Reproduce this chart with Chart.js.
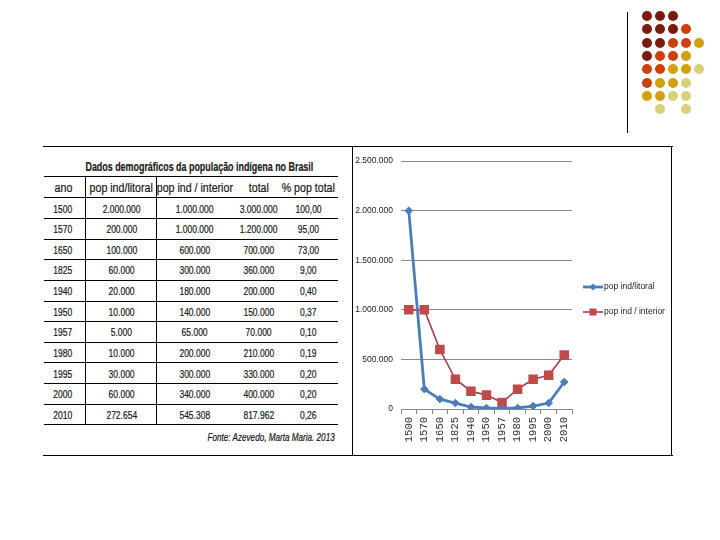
<!DOCTYPE html>
<html>
<head>
<meta charset="utf-8">
<script src="https://cdn.jsdelivr.net/npm/chart.js@4.4.1/dist/chart.umd.min.js"></script>
<style>
html,body{margin:0;padding:0;background:#fff;}
body{width:720px;height:540px;position:relative;overflow:hidden;font-family:"Liberation Sans",Arial,sans-serif;color:#151515;}
.hl{position:absolute;height:0;border-top:1.5px solid #000;}
.vl{position:absolute;width:0;border-left:1.5px solid #000;}
.dot{position:absolute;width:10px;height:10px;border-radius:50%;}
.cell{position:absolute;text-align:center;white-space:nowrap;width:300px;-webkit-text-stroke:0.2px #151515;}
.cell span{display:inline-block;transform-origin:50% 50%;}
.leg{position:absolute;left:583px;height:12px;line-height:12px;font:8.5px "Liberation Sans",Arial,sans-serif;color:#222;white-space:nowrap;}
.leg svg{vertical-align:middle;margin-right:1px;}
</style>
</head>
<body>
<div id="deco"></div>
<div id="table"></div>
<div style="position:absolute;left:353px;top:148px;width:318px;height:306px;">
  <canvas id="chart"></canvas>
</div>
<div id="legend"></div>
<script>
// data
const years = ['1500','1570','1650','1825','1940','1950','1957','1980','1995','2000','2010'];
const popLitoral = [2000000, 200000, 100000, 60000, 20000, 10000, 5000, 10000, 30000, 60000, 272654];
const popInterior = [1000000, 1000000, 600000, 300000, 180000, 140000, 65000, 200000, 300000, 340000, 545308];
const popTotal = [3000000, 1200000, 700000, 360000, 200000, 150000, 70000, 210000, 330000, 400000, 817962];
const pctTotal = [100, 95, 73, 9, 0.40, 0.37, 0.10, 0.19, 0.20, 0.20, 0.26];
const seriesNames = ['pop ind/litoral', 'pop ind / interior'];
const headers = ['ano', 'pop ind/litoral', 'pop ind / interior', 'total', '% pop total'];
const tableTitle = 'Dados demográficos da população indígena no Brasil';
const sourceNote = 'Fonte: Azevedo, Marta Maria. 2013';
const yMax = 2500000, yStep = 500000;

const fmt = n => String(n).replace(/\B(?=(\d{3})+(?!\d))/g, '.');
const pct = n => n.toFixed(2).replace('.', ',');

function add(parent, cls, css, text){
  const d = document.createElement('div');
  d.className = cls; d.style.cssText = css;
  if (text != null) d.textContent = text;
  parent.appendChild(d); return d;
}
// centred text squeezed horizontally (the slide's table uses a narrow font)
function cell(parent, cx, top, h, css, text, sx){
  const d = add(parent, 'cell', `left:${cx - 150}px;top:${top}px;height:${h}px;line-height:${h}px;${css}`);
  const s = document.createElement('span');
  s.textContent = text; s.style.transform = `scaleX(${sx})`;
  d.appendChild(s); return s;
}
function fitTo(span, w){ span.style.transform = `scaleX(${w / span.offsetWidth})`; }

// frame lines + corner decoration
const deco = document.getElementById('deco');
add(deco, 'hl', 'left:43px;top:146px;width:630px;');
add(deco, 'hl', 'left:43px;top:454.5px;width:630px;');
add(deco, 'vl', 'left:351.5px;top:146px;height:310px;');
add(deco, 'vl', 'left:671px;top:146px;height:310px;');
add(deco, 'vl', 'left:626.5px;top:12px;height:121px;');
const dotRows = ['DDD..', 'DDDO.', 'DDOOG', 'DOOG.', 'OOGGP', 'OGGP.', 'GGPP.', '.P.P.'];
const dotColors = {D:'#7B1B10', O:'#CE3F0F', G:'#D3A012', P:'#D7D07C'};
dotRows.forEach((row, r) => [...row].forEach((c, i) => {
  if (c === '.') return;
  add(deco, 'dot', `left:${642 + i*13.1}px;top:${11 + r*13.3}px;background:${dotColors[c]};`);
}));

// table
const tb = document.getElementById('table');
const colCenter = [63, 121.5, 194.5, 258.5, 308.5];
const rowTop = [177, 198];
for (let k = 1; k <= years.length; k++) rowTop.push(198 + k*20.65);
const ttl = cell(tb, 196, 157, 20, 'font-size:12px;font-weight:bold;color:#222;', tableTitle, 1);
fitTo(ttl, 228);
rowTop.forEach(y => add(tb, 'hl', `left:44px;top:${y - 0.75}px;width:294px;`));
[86, 157].forEach(x => add(tb, 'vl', `left:${x - 0.75}px;top:177px;height:248px;`));
const rows = [headers].concat(years.map((y, i) => [y, fmt(popLitoral[i]), fmt(popInterior[i]), fmt(popTotal[i]), pct(pctTotal[i])]));
rows.forEach((r, ri) => {
  const top = rowTop[ri], h = rowTop[ri + 1] - top;
  r.forEach((t, ci) => {
    const fs = ri === 0 ? 12.5 : 11.5, sx = ri === 0 ? 0.85 : 0.74;
    cell(tb, colCenter[ci], top + 0.5, h, `font-size:${fs}px;`, t, sx);
  });
});
const src = cell(tb, 271.5, 429, 16, 'font-style:italic;font-size:10.5px;', sourceNote, 1);
fitTo(src, 127);

// chart
const chart = new Chart(document.getElementById('chart').getContext('2d'), {
  type: 'line',
  data: {
    labels: years,
    datasets: [
      { label: seriesNames[0], data: popLitoral, borderColor: '#4A7EBB', backgroundColor: '#4A7EBB',
        borderWidth: 2.8, pointStyle: 'rectRot', pointRadius: 3.8, pointBorderWidth: 1, tension: 0 },
      { label: seriesNames[1], data: popInterior, borderColor: '#A23A55', backgroundColor: '#BE4B48',
        pointBorderColor: '#BE4B48', borderWidth: 1.6, pointStyle: 'rect', pointRadius: 5.6, tension: 0 }
    ]
  },
  options: {
    responsive: true, maintainAspectRatio: false, animation: false,
    layout: { padding: { top: 13, right: 99, left: 0, bottom: 0 } },
    plugins: { legend: { display: false }, tooltip: { enabled: false } },
    scales: {
      x: {
        offset: true,
        grid: { offset: true, drawOnChartArea: false, tickLength: 5, color: '#888' },
        border: { color: '#888' },
        ticks: { minRotation: 90, maxRotation: 90, autoSkip: false, padding: 3, color: '#333',
                 font: { family: 'Liberation Mono', size: 10.5 } },
        afterFit: s => { s.height = 45; }
      },
      y: {
        min: 0, max: yMax,
        grid: { color: '#8a8a8a', drawTicks: false },
        border: { display: false },
        ticks: { stepSize: yStep, padding: 8, color: '#222', font: { family: 'Liberation Sans', size: 8.5 },
                 callback: v => v === 0 ? '0' : fmt(v) },
        afterFit: s => { s.width = 48; }
      }
    }
  }
});

// legend beside the plot, built from the chart's datasets
const lg = document.getElementById('legend');
chart.data.datasets.forEach((ds, i) => {
  const marker = ds.pointStyle === 'rect'
    ? `<rect x="6.5" y="1.5" width="7" height="7" fill="${ds.backgroundColor}"/>`
    : `<path d="M10 1.5L13.5 5L10 8.5L6.5 5Z" fill="${ds.backgroundColor}"/>`;
  const d = add(lg, 'leg', `top:${281 + i*25}px;`);
  d.innerHTML = `<svg width="20" height="10"><line x1="0" y1="5" x2="20" y2="5" stroke="${ds.borderColor}" stroke-width="${ds.borderWidth}"/>${marker}</svg>`;
  d.appendChild(document.createTextNode(ds.label));
});
</script>
</body>
</html>
